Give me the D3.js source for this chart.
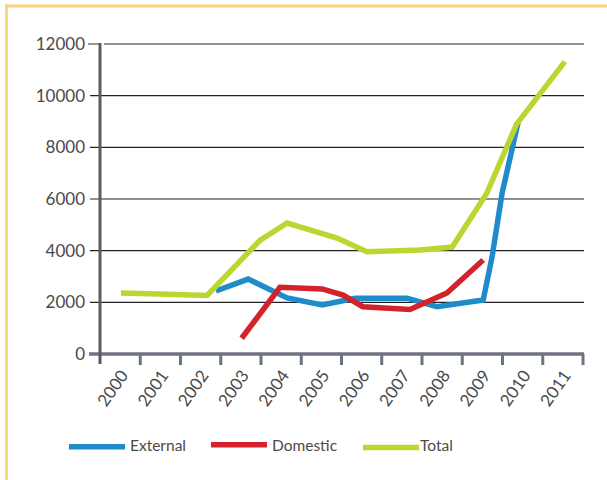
<!DOCTYPE html>
<html>
<head>
<meta charset="utf-8">
<script src="https://cdn.jsdelivr.net/npm/d3@7"></script>
<style>
  body { margin: 0; background: #fff; }
  text { font-family: Lato, "Open Sans", sans-serif; font-weight: 400; fill: #4a4a4a; }
</style>
</head>
<body>
<svg id="chart" width="607" height="480"></svg>
<script>
// tick labels
var years = ["2000", "2001", "2002", "2003", "2004", "2005", "2006", "2007", "2008", "2009", "2010", "2011"]
var yTicks = [0, 2000, 4000, 6000, 8000, 10000, 12000]

// series, [year position, value]
var external = [[2002.38, 2440], [2003.18, 2900], [2004.15, 2170], [2005.02, 1900], [2005.84, 2160],
  [2007.13, 2160], [2007.87, 1830], [2009.02, 2090], [2009.24, 3750], [2009.49, 6230], [2009.89, 8980]]
var domestic = [[2003.02, 610], [2003.97, 2580], [2005.02, 2520], [2005.54, 2280], [2006.03, 1830],
  [2007.20, 1720], [2008.12, 2360], [2009.02, 3640]]
var total = [[2000.02, 2360], [2000.99, 2320], [2002.16, 2265], [2003.48, 4410], [2004.15, 5070],
  [2005.39, 4490], [2006.13, 3960], [2007.45, 4030], [2008.25, 4140], [2009.11, 6220],
  [2009.85, 8900], [2011.05, 11320]]

var seriesNames = ["External", "Domestic", "Total"]
var seriesColors = ["#1f8bcb", "#d3222a", "#bdd531"]

var svg = d3.select("#chart")

// yellow frame, top and left
svg.append("rect").attr("x", 5).attr("y", 4.5).attr("width", 602).attr("height", 3).attr("fill", "#fed47b")
svg.append("rect").attr("x", 5).attr("y", 4.5).attr("width", 3).attr("height", 476).attr("fill", "#fed47b")

var xBand = d3.scaleBand().domain(years).range([100, 583]).padding(0)
var xPos = d3.scaleLinear().domain([1999.5, 2011.5]).range([100, 583])
var y = d3.scaleLinear().domain([0, 12000]).range([354, 44])

// grid lines with their ticks
svg.append("g")
  .selectAll("line")
  .data(yTicks.filter(function(d) { return d > 0 }))
  .enter()
  .append("line")
  .attr("x1", function(d) { return d == 12000 ? 104 : 90 })
  .attr("x2", 584)
  .attr("y1", function(d) { return y(d) })
  .attr("y2", function(d) { return y(d) })
  .attr("stroke", "#222")
  .attr("stroke-width", 1.2)

svg.append("line")
  .attr("x1", 88).attr("x2", 100)
  .attr("y1", y(12000)).attr("y2", y(12000))
  .attr("stroke", "#6d7383").attr("stroke-width", 1.5)

svg.append("g")
  .selectAll("text")
  .data(yTicks)
  .enter()
  .append("text")
  .attr("x", 85)
  .attr("y", function(d) { return y(d) })
  .attr("dy", "0.36em")
  .attr("text-anchor", "end")
  .style("font-size", "17px")
  .text(function(d) { return d })

// x axis and its ticks at band edges
svg.append("line")
  .attr("x1", 89).attr("x2", 584)
  .attr("y1", y(0)).attr("y2", y(0))
  .attr("stroke", "#6d7383").attr("stroke-width", 3.5)

svg.append("g")
  .selectAll("line")
  .data(years)
  .enter()
  .append("line")
  .attr("x1", function(d) { return xBand(d) + xBand.bandwidth() })
  .attr("x2", function(d) { return xBand(d) + xBand.bandwidth() })
  .attr("y1", y(0))
  .attr("y2", y(0) + 11)
  .attr("stroke", "#6d7383")
  .attr("stroke-width", 3)

// y axis
svg.append("line")
  .attr("x1", 100).attr("x2", 100)
  .attr("y1", 43).attr("y2", 364)
  .attr("stroke", "#5b5b5b").attr("stroke-width", 3)

svg.append("g")
  .selectAll("text")
  .data(years)
  .enter()
  .append("text")
  .attr("transform", function(d) {
    return "translate(" + (xBand(d) + xBand.bandwidth() / 2 + 4) + ",372) rotate(-55)"
  })
  .attr("dy", "0.35em")
  .attr("text-anchor", "end")
  .style("font-size", "17px")
  .text(function(d) { return d })

// series lines
var line = d3.line()
  .x(function(d) { return xPos(d[0]) })
  .y(function(d) { return y(d[1]) })

var allSeries = [external, domestic, total]
svg.append("g")
  .selectAll("path")
  .data(allSeries)
  .enter()
  .append("path")
  .attr("d", line)
  .attr("fill", "none")
  .attr("stroke", function(d, i) { return seriesColors[i] })
  .attr("stroke-width", 5.5)

// legend
var legendX = [69, 211, 363]
var legendY = [446.7, 444.8, 447.5]
var legend = svg.append("g")
  .selectAll("g")
  .data(seriesNames)
  .enter()
  .append("g")

legend.append("line")
  .attr("x1", function(d, i) { return legendX[i] })
  .attr("x2", function(d, i) { return legendX[i] + 56 })
  .attr("y1", function(d, i) { return legendY[i] })
  .attr("y2", function(d, i) { return legendY[i] })
  .attr("stroke", function(d, i) { return seriesColors[i] })
  .attr("stroke-width", 5.5)

legend.append("text")
  .attr("x", function(d, i) { return legendX[i] + (i == 2 ? 57 : 61) })
  .attr("y", 451.3)
  .style("font-size", "15.5px")
  .text(function(d) { return d })
</script>
</body>
</html>
